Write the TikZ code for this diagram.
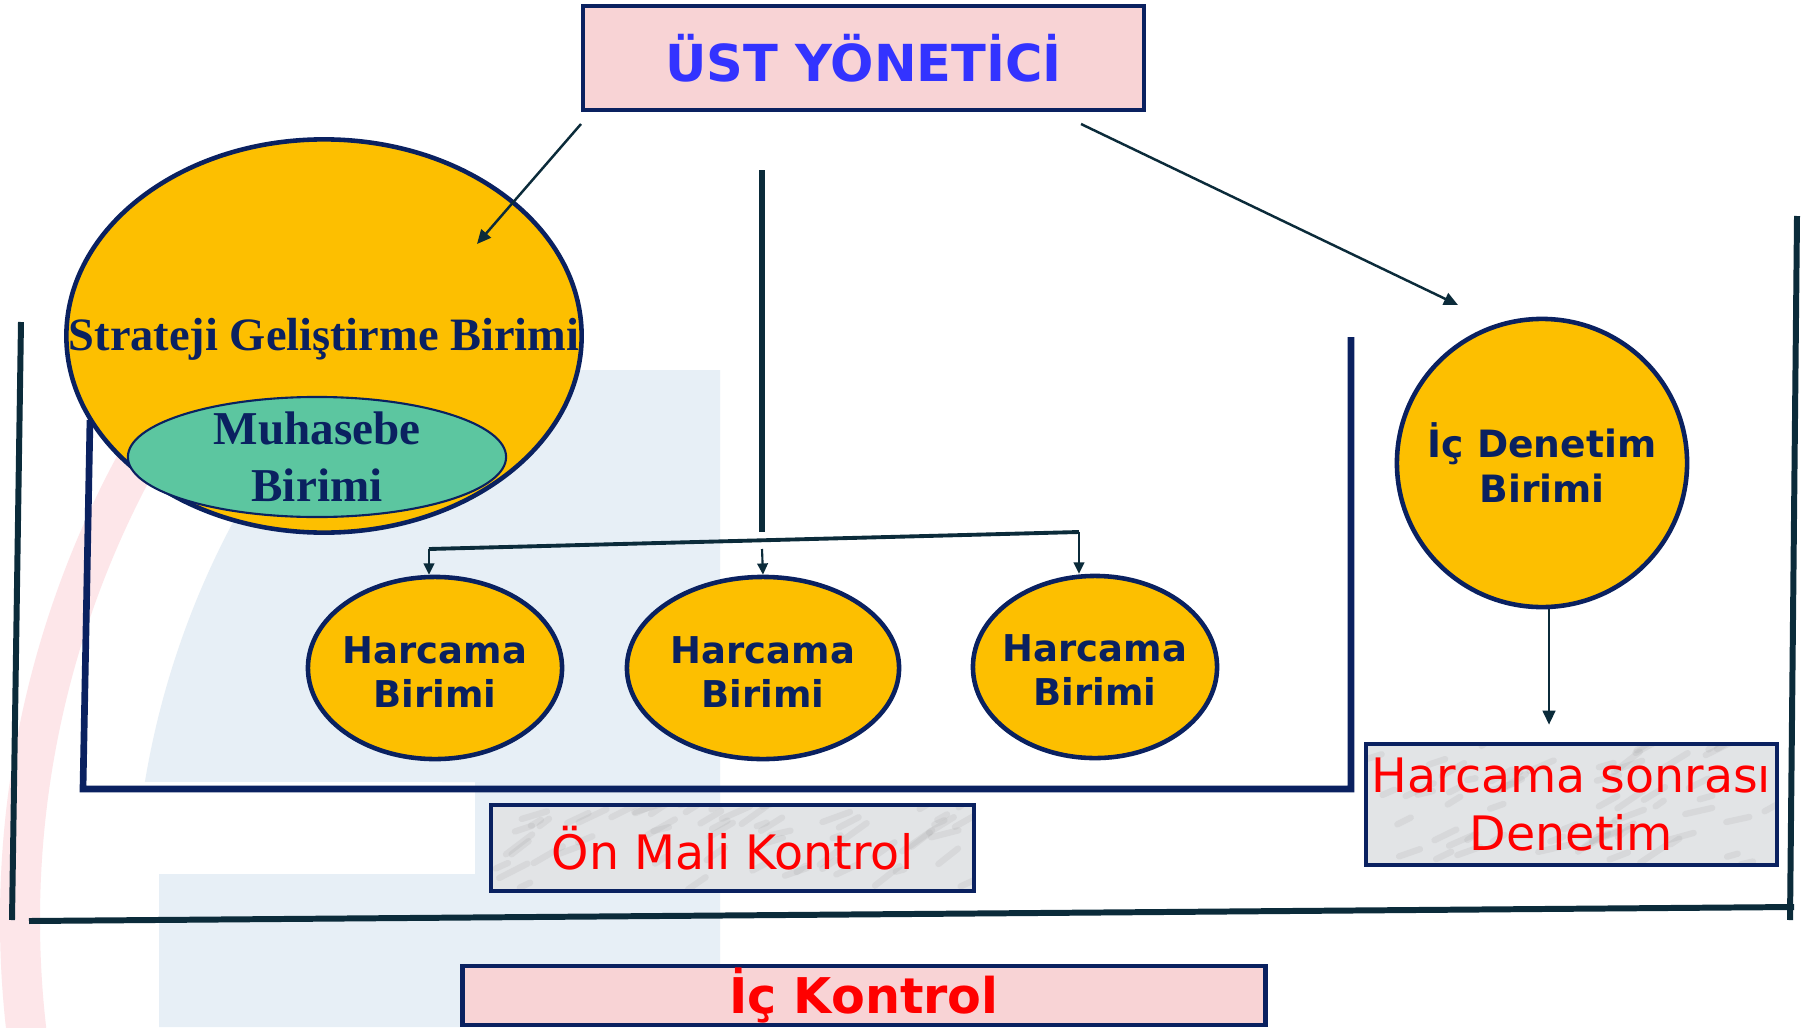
\documentclass[tikz,border=0pt]{standalone}
\usepackage{fontspec}
\usepackage{tikz}
\usetikzlibrary{shapes.geometric,arrows.meta,calc}

\newfontfamily\dvs{DejaVu Sans}
\newfontfamily\lbs{Liberation Serif}

\definecolor{lacivert}{HTML}{0A2160}
\definecolor{koyu}{HTML}{0B2B3A}
\definecolor{altin}{HTML}{FDBF00}
\definecolor{yesil}{HTML}{5CC6A0}
\definecolor{pembe}{HTML}{F8D3D5}
\definecolor{mavi}{HTML}{3333FF}
\definecolor{kirmizi}{HTML}{FF0000}
\definecolor{mermer}{HTML}{E2E4E6}
\definecolor{wmmavi}{HTML}{E7EFF6}
\definecolor{wmpembe}{HTML}{FDE6E9}

% metin kutusu elipsin boyunu degistirmesin
\newcommand{\ortala}[2][0pt]{\makebox[0pt]{\raisebox{\dimexpr(\depth-\height)/2-#1\relax}[0pt][0pt]{\begin{tabular}{@{}c@{}}#2\end{tabular}}}}

\tikzset{
  birim/.style={ellipse, draw=lacivert, line width=1.3pt, fill=altin, text=lacivert,
    inner sep=0pt},
  kutu/.style={rectangle, draw=lacivert, line width=1.3pt, inner sep=0pt, align=center},
  mermerkutu/.style={kutu, fill=mermer, text=kirmizi, font=\dvs\fontsize{13.5}{16.3}\selectfont,
    path picture={
      \pgfmathsetseed{#1}
      \foreach \i in {1,...,60}{
        \pgfmathsetmacro{\rx}{rnd}
        \pgfmathsetmacro{\ry}{rnd}
        \pgfmathsetmacro{\rl}{8+22*rnd}
        \pgfmathsetmacro{\rs}{-0.2-0.6*rnd}
        \draw[gray!75, line width=1.8pt, opacity=0.16, line cap=round]
          ($(path picture bounding box.south west)!\rx!(path picture bounding box.south east)
            + \ry*(path picture bounding box.north west) - \ry*(path picture bounding box.south west)$)
          -- ++(\rl,\rs*\rl);
      }}},
  ok/.style={-{Triangle[length=4pt,width=3.6pt]}, draw=koyu, line width=0.7pt},
  kucukok/.style={-{Triangle[length=3.2pt,width=3pt]}, draw=koyu, line width=0.6pt},
  cizgi/.style={draw=koyu, line width=1.6pt},
  cerceve/.style={draw=lacivert, line width=1.9pt}
}

\begin{document}
\begin{tikzpicture}[x=0.01cm,y=-0.01cm]
        \useasboundingbox (0,0) rectangle (1803,1027);
        \fill[white] (0,0) rectangle (1803,1027);
        % filigran
        \fill[wmpembe] (978,920) ++(173:978) arc[start angle=173,end angle=220,radius=978]
          -- ++(40:40) arc[start angle=220,end angle=173,radius=938] -- cycle;
        \fill[wmmavi] (720,370) -- (337,370) arc[start angle=220.6,end angle=189.4,radius=845]
          -- (475,782) -- (475,874) -- (159,874) -- (159,1027) -- (720,1027) -- cycle;

        % dis cerceve (ic kontrol)
        \coordinate (dsol) at (21,322);
        \coordinate (dsolalt) at (12,920);
        \coordinate (dalt) at (29,921);
        \coordinate (dsagalt) at (1794,907);
        \coordinate (dsag) at (1797,216);
        \draw[cizgi, line width=1.7pt] (dsol) -- (dsolalt);
        \draw[cizgi, line width=1.7pt] (dalt) -- (dsagalt);
        \draw[cizgi, line width=1.7pt] (dsag) -- (1790,920);

        % on mali kontrol cercevesi
        \draw[cerceve] (90,420) -- (83,789) -- (1351,789) -- (1351,337);

        \node[birim, minimum width=5.15cm, minimum height=3.93cm, font=\lbs\bfseries\fontsize{13.2}{16}\selectfont]
          (sgb) at (324,336) {\ortala[1pt]{Strateji Geliştirme Birimi}};
        \node[ellipse, draw=lacivert, line width=0.6pt, fill=yesil, text=lacivert, inner sep=0pt,
          minimum width=3.78cm, minimum height=1.2cm,
          font=\lbs\bfseries\fontsize{13.4}{16.3}\selectfont]
          (muh) at (317,457) {\ortala[1.3pt]{Muhasebe\\Birimi}};

        \node[kutu, fill=pembe, minimum width=5.61cm, minimum height=1.04cm, text=mavi,
          font=\dvs\bfseries\fontsize{14.5}{17}\selectfont] (ust) at (863.5,58) {ÜST YÖNETİCİ};

        \node[birim, minimum width=2.54cm, minimum height=1.82cm, font=\dvs\bfseries\fontsize{10.5}{12.5}\selectfont]
          (h1) at (435,668) {\ortala[2.5pt]{Harcama\\Birimi}};
        \node[birim, minimum width=2.72cm, minimum height=1.82cm, font=\dvs\bfseries\fontsize{10.5}{12.5}\selectfont]
          (h2) at (763,668) {\ortala[2.5pt]{Harcama\\Birimi}};
        \node[birim, minimum width=2.44cm, minimum height=1.82cm, font=\dvs\bfseries\fontsize{10.5}{12.5}\selectfont]
          (h3) at (1095,667) {\ortala[2.3pt]{Harcama\\Birimi}};

        \node[birim, minimum width=2.9cm, minimum height=2.88cm, font=\dvs\bfseries\fontsize{10.7}{12.8}\selectfont]
          (icd) at (1542,463) {\ortala[1.8pt]{İç Denetim\\Birimi}};

        \node[mermerkutu=3, minimum width=4.83cm, minimum height=0.86cm] (onmali) at (732.5,848) {Ön Mali Kontrol};
        \node[mermerkutu=11, minimum width=4.11cm, minimum height=1.21cm] (sonra) at (1571.5,804.5) {Harcama sonrası\\Denetim};
        \node[kutu, fill=pembe, minimum width=8.02cm, minimum height=0.59cm, text=kirmizi,
          font=\dvs\bfseries\fontsize{14}{17}\selectfont] (ick) at (864,995.5) {İç Kontrol};

        % oklar
        \coordinate (k1) at (581,124);
        \coordinate (k1uc) at (477,244);
        \coordinate (k2) at (1081,124);
        \coordinate (k2uc) at (1458,305);
        \draw[ok] (k1) -- (k1uc);
        \draw[ok] (k2) -- (k2uc);

        \coordinate (orta) at (762,170);
        \coordinate (ortaalt) at (762,532);
        \draw[cizgi, line width=1.5pt] (orta) -- (ortaalt);

        \coordinate (dsl) at (429,549);
        \coordinate (dsg) at (1079,532);
        \draw[koyu, line width=1.1pt] (dsl) -- (dsg);
        \draw[kucukok] (dsl) -- (dsl |- h1.north);
        \draw[kucukok] (762,549) -- (h2.north);
        \draw[kucukok] (dsg) -- (dsg |- h3.north);

        \draw[ok, shorten >=0.17cm] ([xshift=0.07cm]icd.south) -- ([xshift=0.07cm]icd.south |- sonra.north);
\end{tikzpicture}
\end{document}
